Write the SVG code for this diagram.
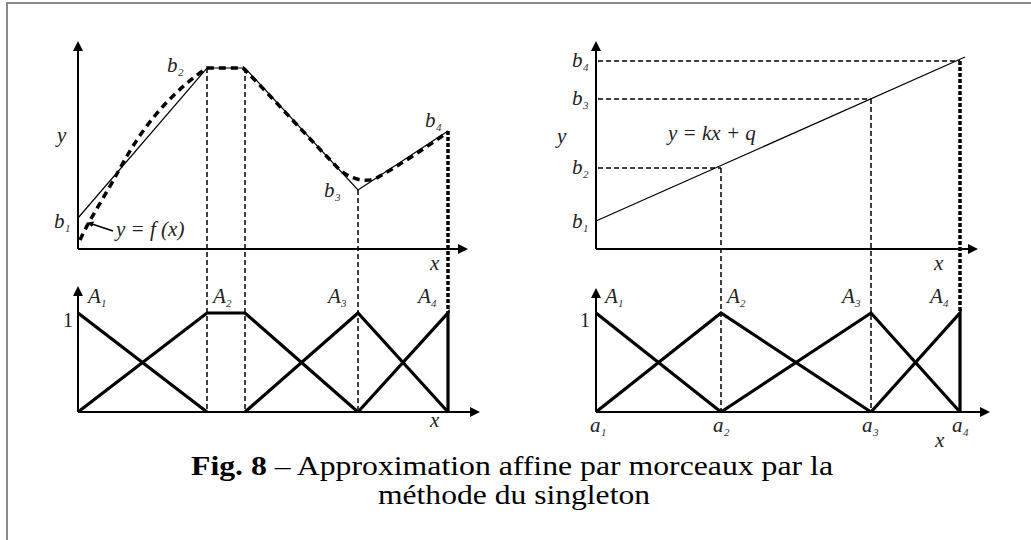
<svg xmlns="http://www.w3.org/2000/svg" width="1031" height="540" viewBox="0 0 1031 540">
<defs>
<style>
text{font-family:'Liberation Serif',Tinos,'Times New Roman',Times,serif}
.lbl{font-style:italic;font-size:21px;fill:#222}
.sub{font-style:italic;font-size:11px;fill:#333}
.num{font-size:20px;fill:#222}
.cap{font-size:28px;fill:#000}
.axis{stroke:#000;stroke-width:2;fill:none;marker-end:url(#arr)}
.thin{stroke:#000;stroke-width:1.2;fill:none}
.mf{stroke:#000;stroke-width:3.2;fill:none;stroke-linejoin:miter}
.dash{stroke:#000;stroke-width:1.5;fill:none;stroke-dasharray:5 3}
.tdash{stroke:#000;stroke-width:3.5;fill:none;stroke-dasharray:4 2}
.fx{stroke:#000;stroke-width:3.5;fill:none;stroke-dasharray:7 5}
</style>
<marker id="arr" viewBox="0 0 10 10" refX="8" refY="5" markerWidth="5" markerHeight="5" orient="auto" markerUnits="strokeWidth">
<path d="M0,0 L10,5 L0,10 Z" fill="#000"/>
</marker>
<marker id="sarr" viewBox="0 0 10 10" refX="2" refY="5" markerWidth="4" markerHeight="4" orient="auto" markerUnits="strokeWidth">
<path d="M0,0 L10,5 L0,10 Z" fill="#000"/>
</marker>
</defs>
<rect width="1031" height="540" fill="#fff"/>
<path d="M7,540 V3 H1031" stroke="#8a8a8a" stroke-width="2" fill="none"/>

<g id="connectors">
<!-- left top -->
<path class="dash" d="M207,68 V412 M245,68 V412 M358,190 V412"/>
<path class="tdash" d="M448,131 V313"/>
<path class="thin" d="M78,218 L207,68 L245,68 L358,190 L448,131"/>
<path class="fx" d="M80,240 C88,222 106,194 118,172 C134,142 160,100 207,68 L243,68 C275,100 310,140 340,170 C352,180 368,184 380,176 C400,165 425,148 448,132"/>
<path d="M113,231 L92,224" stroke="#000" stroke-width="1.5" fill="none" marker-end="url(#sarr)"/>
<!-- left bottom -->
<path class="mf" d="M78,313 L207,412"/>
<path class="mf" d="M78,412 L207,313 L245,313 L358,412"/>
<path class="mf" d="M245,412 L358,313 L448,412"/>
<path class="mf" d="M358,412 L448,313 L448,412"/>
<!-- right top -->
<path class="dash" d="M598,61 H960 M598,99 H871 M598,168 H721"/>
<path class="dash" d="M721,168 V412 M871,99 V412"/>
<path class="tdash" d="M960,61 V313"/>
<path class="thin" d="M596,221 L965,57"/>
<!-- right bottom -->
<path class="mf" d="M596,313 L721,412"/>
<path class="mf" d="M596,412 L721,313 L871,412"/>
<path class="mf" d="M721,412 L871,313 L960,412"/>
<path class="mf" d="M871,412 L960,313 L960,412"/>
</g>

<g id="left-top-axes">
<path class="axis" d="M78,249 V43"/>
<path class="axis" d="M78,249 H466"/>
<text class="lbl" x="57" y="142">y</text>
<text class="lbl" x="430" y="270">x</text>
<text class="lbl" x="54" y="228">b</text><text class="sub" x="65" y="232">1</text>
<text class="lbl" x="167" y="72">b</text><text class="sub" x="178" y="76">2</text>
<text class="lbl" x="324" y="197">b</text><text class="sub" x="335" y="201">3</text>
<text class="lbl" x="425" y="127">b</text><text class="sub" x="436" y="131">4</text>
<text class="lbl" x="116" y="236">y = f (x)</text>
</g>

<g id="left-bottom-axes">
<path class="axis" d="M78,412 V288"/>
<path class="axis" d="M78,412 H478"/>
<text class="num" x="63" y="327">1</text>
<text class="lbl" x="88" y="303">A</text><text class="sub" x="101" y="307">1</text>
<text class="lbl" x="213" y="303">A</text><text class="sub" x="226" y="307">2</text>
<text class="lbl" x="328" y="303">A</text><text class="sub" x="341" y="307">3</text>
<text class="lbl" x="418" y="303">A</text><text class="sub" x="431" y="307">4</text>
<text class="lbl" x="430" y="427">x</text>
</g>

<g id="right-top-axes">
<path class="axis" d="M596,249 V43"/>
<path class="axis" d="M596,249 H976"/>
<text class="lbl" x="557" y="143">y</text>
<text class="lbl" x="934" y="270">x</text>
<text class="lbl" x="572" y="228">b</text><text class="sub" x="583" y="232">1</text>
<text class="lbl" x="572" y="174">b</text><text class="sub" x="583" y="178">2</text>
<text class="lbl" x="572" y="105">b</text><text class="sub" x="583" y="109">3</text>
<text class="lbl" x="572" y="67">b</text><text class="sub" x="583" y="71">4</text>
<text class="lbl" x="668" y="140">y = kx + q</text>
</g>

<g id="right-bottom-axes">
<path class="axis" d="M596,412 V290"/>
<path class="axis" d="M596,412 H988"/>
<text class="num" x="580" y="327">1</text>
<text class="lbl" x="605" y="303">A</text><text class="sub" x="618" y="307">1</text>
<text class="lbl" x="727" y="303">A</text><text class="sub" x="740" y="307">2</text>
<text class="lbl" x="842" y="303">A</text><text class="sub" x="855" y="307">3</text>
<text class="lbl" x="930" y="303">A</text><text class="sub" x="943" y="307">4</text>
<text class="lbl" x="590" y="432">a</text><text class="sub" x="601" y="436">1</text>
<text class="lbl" x="713" y="432">a</text><text class="sub" x="724" y="436">2</text>
<text class="lbl" x="862" y="432">a</text><text class="sub" x="873" y="436">3</text>
<text class="lbl" x="952" y="432">a</text><text class="sub" x="963" y="436">4</text>
<text class="lbl" x="935" y="447">x</text>
</g>

<g id="caption">
<text class="cap" x="191" y="475" textLength="642" lengthAdjust="spacingAndGlyphs"><tspan font-weight="bold">Fig. 8</tspan> – Approximation affine par morceaux par la</text>
<text class="cap" x="378" y="504" textLength="272" lengthAdjust="spacingAndGlyphs">méthode du singleton</text>
</g>
</svg>
